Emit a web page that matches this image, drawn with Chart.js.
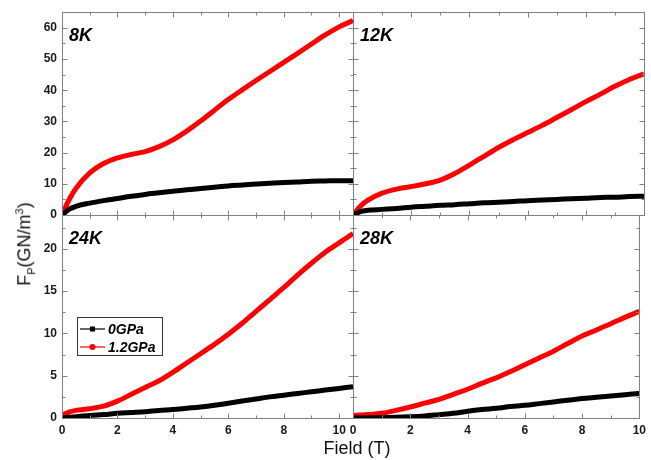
<!DOCTYPE html>
<html>
<head>
<meta charset="utf-8">
<script src="https://cdn.jsdelivr.net/npm/chart.js@4/dist/chart.umd.min.js"></script>
<style>
  body { margin: 0; background: #fff; }
  #wrap { position: relative; width: 651px; height: 460px; overflow: hidden; background: #fff; }
  #wrap canvas { position: absolute; left: 0; top: 0; }
  #ytitle {
    position: absolute; left: 25px; top: 244px;
    transform: translate(-50%, -50%) rotate(-90deg);
    font: 18px "Liberation Sans", Arial, sans-serif; white-space: nowrap; color: #111;
  }
  #ytitle sub, #ytitle sup { font-size: 11px; }
  #xtitle {
    position: absolute; left: 257px; top: 439px; width: 200px; text-align: center;
    font: 18px "Liberation Sans", Arial, sans-serif; line-height: 18px; color: #111;
  }
</style>
</head>
<body>
<div id="wrap">
  <canvas id="c8" width="651" height="460"></canvas>
  <canvas id="c12" width="651" height="460"></canvas>
  <canvas id="c24" width="651" height="460"></canvas>
  <canvas id="c28" width="651" height="460"></canvas>
  <div id="ytitle">F<sub>P</sub>(GN/m<sup>3</sup>)</div>
  <div id="xtitle">Field (T)</div>
</div>
<script>
// Field values (T)
const fieldLeft = [0, 0.25, 0.5, 1, 1.5, 2, 2.5, 3, 3.5, 4, 4.5, 5, 5.5, 6, 6.5, 7, 7.5, 8, 8.5, 9, 9.5, 10, 10.5];
const fieldRight = [0, 0.25, 0.5, 1, 1.5, 2, 2.5, 3, 3.5, 4, 4.5, 5, 5.5, 6, 6.5, 7, 7.5, 8, 8.5, 9, 9.5, 10];

// Pinning force Fp (GN/m^3)
const fp8K_0GPa = [0, 1.8, 2.8, 3.8, 4.6, 5.3, 6.0, 6.6, 7.1, 7.6, 8.1, 8.5, 8.9, 9.3, 9.6, 9.9, 10.2, 10.4, 10.6, 10.8, 10.9, 11.0, 11.0];
const fp8K_12GPa = [0, 4.8, 8.5, 13.5, 16.5, 18.3, 19.4, 20.3, 21.9, 24.1, 26.9, 30.1, 33.6, 37.0, 40.1, 43.1, 46.0, 48.9, 51.8, 54.8, 57.7, 60.3, 62.3];
const fp12K_0GPa = [0, 1.1, 1.5, 1.8, 2.1, 2.5, 2.8, 3.1, 3.3, 3.6, 3.9, 4.1, 4.3, 4.6, 4.8, 5.0, 5.2, 5.4, 5.6, 5.7, 5.9, 6.0];
const fp12K_12GPa = [0, 2.8, 4.7, 7.0, 8.3, 9.1, 10.0, 11.2, 13.3, 16.0, 18.8, 21.6, 24.1, 26.4, 28.7, 31.2, 33.7, 36.3, 38.7, 41.2, 43.4, 45.2];
const fp24K_0GPa = [0, 0.1, 0.15, 0.3, 0.4, 0.55, 0.65, 0.75, 0.9, 1.0, 1.15, 1.3, 1.5, 1.75, 2.0, 2.25, 2.5, 2.7, 2.9, 3.1, 3.3, 3.5, 3.7];
const fp24K_12GPa = [0.3, 0.7, 0.9, 1.1, 1.4, 2.0, 2.8, 3.6, 4.4, 5.4, 6.5, 7.6, 8.7, 9.9, 11.2, 12.6, 14.0, 15.4, 16.9, 18.3, 19.6, 20.7, 21.8];
const fp28K_0GPa = [0, 0, 0.01, 0.03, 0.08, 0.15, 0.25, 0.4, 0.55, 0.8, 1.0, 1.15, 1.35, 1.5, 1.7, 1.9, 2.1, 2.3, 2.45, 2.6, 2.75, 2.9];
const fp28K_12GPa = [0.3, 0.35, 0.4, 0.55, 0.9, 1.3, 1.75, 2.2, 2.8, 3.4, 4.1, 4.75, 5.5, 6.3, 7.1, 7.9, 8.8, 9.7, 10.4, 11.15, 11.9, 12.6];

const seriesNames = ["0GPa", "1.2GPa"];
const panelNames = ["8K", "12K", "24K", "28K"];
const fieldMax = [10.5, 10];     // left column, right column
const fpMax = [65, 24];          // top row, bottom row
const fpStep = [10, 5];
const fieldStep = 2;

const FONT = '"Liberation Sans", Arial, sans-serif';
const FRAME = "#808080";

function toPoints(xs, ys) {
  return xs.map((x, i) => ({ x: x, y: ys[i] }));
}

// frame, inward ticks on all sides, panel name and legend
const panelDecor = {
  id: "panelDecor",
  afterDraw(chart, args, opts) {
    const { ctx, chartArea: a, scales } = chart;
    const x = scales.x, y = scales.y;
    ctx.save();
    ctx.strokeStyle = FRAME;
    ctx.lineWidth = 1;
    const L = Math.round(a.left) + 0.5, R = Math.round(a.right) + 0.5;
    const T = Math.round(a.top) + 0.5, B = Math.round(a.bottom) + 0.5;
    ctx.strokeRect(L, T, R - L, B - T);

    ctx.beginPath();
    const xt = x.ticks.map(t => t.value);
    xt.forEach(v => {
      const px = Math.round(x.getPixelForValue(v)) + 0.5;
      ctx.moveTo(px, B); ctx.lineTo(px, B - 5);
      ctx.moveTo(px, T); ctx.lineTo(px, T + 5);
      const m = v + fieldStep / 2;
      if (m < x.max) {
        const pm = Math.round(x.getPixelForValue(m)) + 0.5;
        ctx.moveTo(pm, B); ctx.lineTo(pm, B - 3);
        ctx.moveTo(pm, T); ctx.lineTo(pm, T + 3);
      }
    });
    const yt = y.ticks.map(t => t.value);
    const ystep = yt[1] - yt[0];
    yt.forEach(v => {
      const py = Math.round(y.getPixelForValue(v)) + 0.5;
      ctx.moveTo(L, py); ctx.lineTo(L + 5, py);
      ctx.moveTo(R, py); ctx.lineTo(R - 5, py);
      const m = v + ystep / 2;
      if (m < y.max) {
        const pm = Math.round(y.getPixelForValue(m)) + 0.5;
        ctx.moveTo(L, pm); ctx.lineTo(L + 3, pm);
        ctx.moveTo(R, pm); ctx.lineTo(R - 3, pm);
      }
    });
    ctx.stroke();

    // panel name
    ctx.fillStyle = "#000";
    ctx.font = "italic bold 18px " + FONT;
    ctx.textBaseline = "alphabetic";
    ctx.fillText(opts.name, a.left + 7, a.top + 29);

    if (opts.legend) {
      const bx = a.left + 15, by = a.top + 102;
      ctx.fillStyle = "#fff";
      ctx.fillRect(bx, by, 85, 38);
      ctx.strokeStyle = "#333";
      ctx.strokeRect(bx + 0.5, by + 0.5, 85, 38);
      ctx.font = "italic bold 14px " + FONT;
      ctx.textBaseline = "middle";
      chart.data.datasets.forEach((ds, i) => {
        const ly = by + 12 + i * 18;
        ctx.strokeStyle = ds.borderColor;
        ctx.lineWidth = 1.2;
        ctx.beginPath();
        ctx.moveTo(bx + 3, ly); ctx.lineTo(bx + 28, ly);
        ctx.stroke();
        ctx.fillStyle = ds.borderColor;
        ctx.beginPath();
        if (i === 0) ctx.rect(bx + 13, ly - 2.5, 5, 5);
        else ctx.arc(bx + 15.5, ly, 3, 0, Math.PI * 2);
        ctx.fill();
        ctx.fillStyle = "#000";
        ctx.fillText(ds.label, bx + 31, ly + 1);
      });
    }
    ctx.restore();
  }
};

function makePanel(id, col, row, field, black, red) {
  const showY = col === 0, showX = row === 1;
  const padding = {
    left: col === 0 ? 0 : 353,
    right: col === 0 ? 298 : 7,
    top: row === 0 ? 12 : 215,
    bottom: row === 0 ? 245 : 20
  };
  return new Chart(document.getElementById(id), {
    type: "scatter",
    data: {
      datasets: [
        { label: seriesNames[0], data: toPoints(field, black), borderColor: "#000", backgroundColor: "#000" },
        { label: seriesNames[1], data: toPoints(field, red), borderColor: "#ff0000", backgroundColor: "#ff0000" }
      ]
    },
    options: {
      responsive: false,
      animation: false,
      devicePixelRatio: 1,
      events: [],
      layout: { padding: padding },
      datasets: {
        scatter: { showLine: true, pointRadius: 0, borderWidth: 5, cubicInterpolationMode: "monotone" }
      },
      scales: {
        x: {
          type: "linear", min: 0, max: fieldMax[col],
          grid: { display: false, drawTicks: false, tickLength: 0 },
          border: { display: false },
          ticks: {
            display: showX, stepSize: fieldStep, includeBounds: false, padding: 5,
            color: "#1a1a1a", font: { family: FONT, weight: "bold", size: 12 }, maxRotation: 0
          },
          afterFit(s) { s.height = showX ? 22 : 0; }
        },
        y: {
          type: "linear", min: 0, max: fpMax[row],
          grid: { display: false, drawTicks: false, tickLength: 0 },
          border: { display: false },
          ticks: {
            display: showY, stepSize: fpStep[row], includeBounds: false, padding: 5,
            color: "#1a1a1a", font: { family: FONT, weight: "bold", size: 12 }
          },
          afterFit(s) { s.width = showY ? 62 : 0; }
        }
      },
      plugins: {
        legend: { display: false },
        tooltip: { enabled: false },
        panelDecor: { name: panelNames[row * 2 + col], legend: id === "c24" }
      }
    },
    plugins: [panelDecor]
  });
}

makePanel("c8", 0, 0, fieldLeft, fp8K_0GPa, fp8K_12GPa);
makePanel("c12", 1, 0, fieldRight, fp12K_0GPa, fp12K_12GPa);
makePanel("c24", 0, 1, fieldLeft, fp24K_0GPa, fp24K_12GPa);
makePanel("c28", 1, 1, fieldRight, fp28K_0GPa, fp28K_12GPa);
</script>
</body>
</html>
